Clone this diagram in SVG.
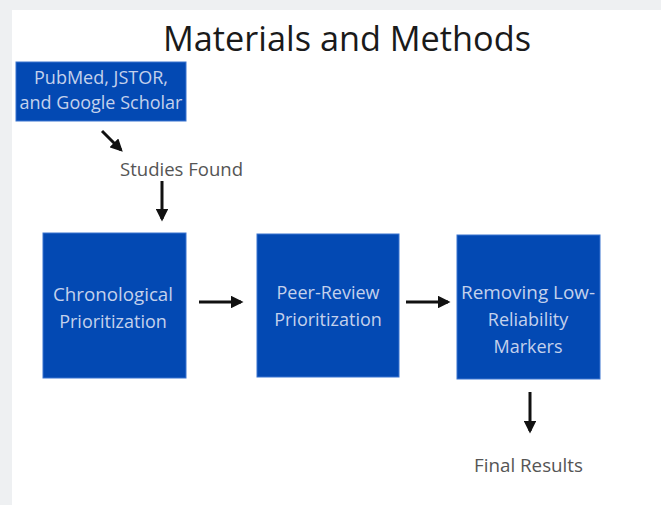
<svg xmlns="http://www.w3.org/2000/svg" width="661" height="505" viewBox="0 0 661 505">
  <defs>
    <marker id="head" viewBox="0 0 10 10" refX="8" refY="5" markerWidth="4.2" markerHeight="4.2" orient="auto" markerUnits="strokeWidth">
      <path d="M0,0 L10,5 L0,10 z" fill="#111"/>
    </marker>
    <style>
      .box { fill: #0349b3; stroke: #3a74d0; stroke-width: 1; }
      .boxtext { font-family: "Open Sans", "Noto Sans", sans-serif; font-size: 18px; fill: #c4d1ec; text-anchor: middle; }
      .label { font-family: "Open Sans", "Noto Sans", sans-serif; font-size: 18px; fill: #555; }
      .title { font-family: "Open Sans", "Noto Sans", sans-serif; font-size: 34px; fill: #1a1a1a; text-anchor: middle; }
      .conn { stroke: #111; stroke-width: 3; fill: none; marker-end: url(#head); }
    </style>
  </defs>

  <!-- page background and white panel -->
  <rect x="0" y="0" width="661" height="505" fill="#eef0f2"/>
  <rect x="12" y="10" width="649" height="495" fill="#ffffff"/>

  <text class="title" x="347" y="51" textLength="368" lengthAdjust="spacingAndGlyphs">Materials and Methods</text>

  <g id="sources">
    <rect class="box" x="16" y="62" width="170" height="59"/>
    <text class="boxtext" x="101" y="84" font-size="16">PubMed, JSTOR,</text>
    <text class="boxtext" x="101" y="109" font-size="16">and Google Scholar</text>
  </g>

  <g id="studies-found">
    <text class="label" x="120" y="176" textLength="123" lengthAdjust="spacingAndGlyphs">Studies Found</text>
  </g>

  <g id="chronological">
    <rect class="box" x="43" y="233" width="143" height="145"/>
    <text class="boxtext" x="113" y="301" textLength="120" lengthAdjust="spacingAndGlyphs">Chronological</text>
    <text class="boxtext" x="113" y="328">Prioritization</text>
  </g>

  <g id="peer-review">
    <rect class="box" x="257" y="234" width="142" height="143"/>
    <text class="boxtext" x="328" y="299">Peer-Review</text>
    <text class="boxtext" x="328" y="326">Prioritization</text>
  </g>

  <g id="low-reliability">
    <rect class="box" x="457" y="235" width="143" height="144"/>
    <text class="boxtext" x="528" y="299" textLength="134" lengthAdjust="spacingAndGlyphs">Removing Low-</text>
    <text class="boxtext" x="528" y="326">Reliability</text>
    <text class="boxtext" x="528" y="353">Markers</text>
  </g>

  <g id="final-results">
    <text class="label" x="474" y="472" textLength="109" lengthAdjust="spacingAndGlyphs">Final Results</text>
  </g>

  <g id="connectors">
    <line class="conn" x1="102" y1="131" x2="121" y2="150"/>
    <line class="conn" x1="162" y1="181" x2="162" y2="219"/>
    <line class="conn" x1="199" y1="302" x2="241" y2="302"/>
    <line class="conn" x1="406" y1="302" x2="448" y2="302"/>
    <line class="conn" x1="530" y1="392" x2="530" y2="431"/>
  </g>
</svg>
